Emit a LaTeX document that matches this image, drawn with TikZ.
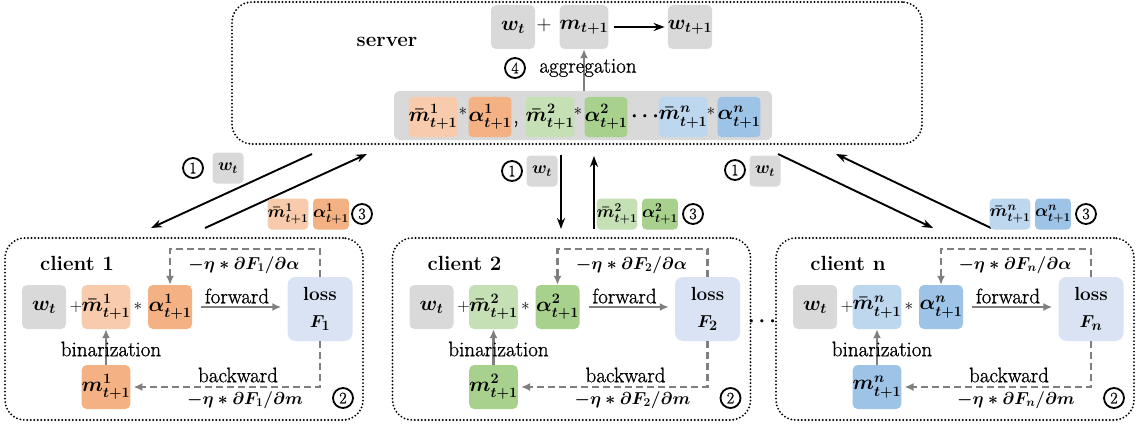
\documentclass[tikz,border=0pt]{standalone}
\usepackage{amsmath}
\usepackage{fontspec}
\newfontfamily\medfont[FakeBold=0.9]{Latin Modern Roman}
\usetikzlibrary{arrows.meta}
\definecolor{cgray}{HTML}{D9D9D9}
\definecolor{lorange}{HTML}{F8CBAD}
\definecolor{dorange}{HTML}{F4B183}
\definecolor{lgreen}{HTML}{C5E0B4}
\definecolor{dgreen}{HTML}{A9D18E}
\definecolor{lblue}{HTML}{BDD7EE}
\definecolor{dblue}{HTML}{9DC3E6}
\definecolor{lossc}{HTML}{DAE3F3}
\definecolor{arrgray}{HTML}{7F7F7F}
\tikzset{
  mbox/.style={font=\fontsize{21}{24}\selectfont\boldmath, inner sep=0pt, rounded corners=5pt,
    minimum width=44pt, minimum height=44pt, fill=#1},
  barbox/.style={font=\fontsize{20.5}{24}\selectfont\boldmath, inner sep=0pt, rounded corners=4pt,
    minimum width=40pt, minimum height=40pt, fill=#1},
  tbox/.style={font=\fontsize{17}{20}\selectfont\boldmath, inner sep=0pt, rounded corners=4pt,
    minimum width=31pt, minimum height=31pt, fill=#1},
  lossbox/.style={font=\fontsize{19}{27}\selectfont\boldmath, inner sep=0pt, rounded corners=8pt,
    minimum width=65pt, minimum height=64pt, fill=lossc, align=center},
  lbl/.style={font=\medfont\fontsize{21}{24}\selectfont\boldmath, inner sep=0pt},
  frm/.style={font=\fontsize{17.5}{22}\selectfont\boldmath, inner sep=0pt},
  ttl/.style={font=\fontsize{20.5}{24}\selectfont\bfseries, inner sep=0pt},
  opsym/.style={font=\fontsize{16}{18}\selectfont, inner sep=0pt},
  numc/.style={circle, draw, line width=1.8pt, minimum size=20pt, inner sep=0pt,
    font=\medfont\fontsize{16}{16}\selectfont},
  dotframe/.style={draw, line width=2.1pt, dash pattern=on 0pt off 3.5pt, line cap=round,
    rounded corners=20pt},
  garrow/.style={draw=arrgray, line width=2.2pt, -{Latex[length=9pt,width=8pt]}},
  gdash/.style={garrow, dash pattern=on 7pt off 4pt},
  barrow/.style={draw=black, line width=1.9pt, -{Stealth[length=11pt,width=8pt]}},
}
% #1 shift, #2 id, #3 light colour, #4 dark colour, #5 index, #6 title
\newcommand\clientblk[6]{%
\begin{scope}[xshift=#1pt]
  \node[dotframe, minimum width=358pt, minimum height=182pt] (cf#2) at (184,329) {};
  \node[ttl] (ct#2) at (77,263) {#6};
  \node[mbox=cgray] (cw#2) at (44,307) {$w_t$};
  \node[opsym] (cp#2) at (76,307) {$+$};
  \node[mbox=#3] (cmb#2) at (106,307) {$\bar{m}^{#5}_{t+1}$};
  \node[opsym] (cs#2) at (138,306) {$*$};
  \node[mbox=#4] (ca#2) at (170,307) {$\alpha^{#5}_{t+1}$};
  \node[lossbox] (cl#2) at (320,309) {\textbf{loss}\\$F_{#5}$};
  \node[mbox=#4] (cm#2) at (106,387) {$m^{#5}_{t+1}$};
  \draw[garrow, shorten <=9pt, shorten >=6pt] (ca#2.east) -- (ca#2.east -| cl#2.west);
  \node[lbl] (fw#2) at (237,296) {forward};
  \draw[gdash] (cl#2.north) -- ++(0,-28) -| (ca#2.north);
  \node[frm] (ga#2) at (244,265) {$-\eta * \partial F_{#5}/\partial\alpha$};
  \draw[garrow] (cm#2.north) -- (cmb#2.south);
  \node[lbl] (bz#2) at (111,349) {binarization};
  \draw[gdash, shorten >=3pt] (cl#2.south) |- (cm#2.east);
  \node[lbl] (bw#2) at (238,375) {backward};
  \node[frm] (gm#2) at (245,400) {$-\eta * \partial F_{#5}/\partial m$};
  \node[numc] (two#2) at (343,398) {2};
\end{scope}}
\begin{document}
\begin{tikzpicture}[x=1pt,y=-1pt]
\useasboundingbox (0,0) rectangle (1137,425);
% ---------------- server ----------------
\node[dotframe, minimum width=690pt, minimum height=142pt] (server) at (577,73) {};
\node[ttl] (srvlbl) at (387,42) {server};
\node[mbox=cgray] (sw) at (513,27) {$w_t$};
\node[opsym, font=\fontsize{20}{20}\selectfont] (splus) at (544,25) {$+$};
\node[mbox=cgray] (sm) at (584,27) {$m_{t+1}$};
\node[mbox=cgray] (sw1) at (690,27) {$w_{t+1}$};
\draw[barrow, shorten <=5pt, shorten >=3pt] (sm.east) -- (sw1.west);
\node[fill=cgray, rounded corners=6pt, minimum width=378pt, minimum height=49pt, inner sep=0pt] (bar) at (583,115.5) {};
\node[barbox=lorange] (b1) at (433,117) {$\bar{m}^1_{t+1}$};
\node[opsym] (bs1) at (463,111) {$*$};
\node[barbox=dorange] (b2) at (490,117) {$\alpha^1_{t+1}$};
\node[lbl] (bc) at (516,124) {,};
\node[barbox=lgreen] (b3) at (550,117) {$\bar{m}^2_{t+1}$};
\node[opsym] (bs2) at (578,111) {$*$};
\node[barbox=dgreen] (b4) at (606,117) {$\alpha^2_{t+1}$};
\node[lbl] (bd) at (647,117) {$\cdots$};
\node[barbox=lblue] (b5) at (683,117) {$\bar{m}^n_{t+1}$};
\node[opsym] (bs3) at (711,111) {$*$};
\node[barbox=dblue] (b6) at (739,117) {$\alpha^n_{t+1}$};
\draw[garrow] (bar.north -| sm.south) -- (sm.south);
\node[numc] (four) at (515,68) {4};
\node[lbl] (agg) at (588,68) {aggregation};
% ---------------- transfer arrows ----------------
\coordinate (d1s) at (312,154); \coordinate (d1e) at (151,228);
\coordinate (u1s) at (205,228); \coordinate (u1e) at (367,154);
\coordinate (d2s) at (561,155); \coordinate (d2e) at (561,229);
\coordinate (u2s) at (594,229); \coordinate (u2e) at (594,156);
\coordinate (dns) at (778,154); \coordinate (dne) at (933,228);
\coordinate (uns) at (991,228); \coordinate (une) at (836,154);
\draw[barrow] (d1s) -- (d1e);
\draw[barrow] (u1s) -- (u1e);
\draw[barrow] (d2s) -- (d2e);
\draw[barrow] (u2s) -- (u2e);
\draw[barrow] (dns) -- (dne);
\draw[barrow] (uns) -- (une);
% labels on transfer
\node[numc] (o1) at (193,168) {1};
\node[tbox=cgray] (tw1) at (228,168) {$w_t$};
\node[tbox=lorange] (tm1) at (288,214) {$\bar{m}^1_{t+1}$};
\node[tbox=dorange] (ta1) at (331,214) {$\alpha^1_{t+1}$};
\node[numc] (th1) at (362,214) {3};
\node[numc] (o2) at (512,171) {1};
\node[tbox=cgray] (tw2) at (542,171) {$w_t$};
\node[tbox=lgreen] (tm2) at (617,214) {$\bar{m}^2_{t+1}$};
\node[tbox=dgreen] (ta2) at (660,214) {$\alpha^2_{t+1}$};
\node[numc] (th2) at (693,214) {3};
\node[numc] (on) at (735,170) {1};
\node[tbox=cgray] (twn) at (765,171) {$w_t$};
\node[tbox=lblue] (tmn) at (1010,214) {$\bar{m}^n_{t+1}$};
\node[tbox=dblue] (tan) at (1053,214) {$\alpha^n_{t+1}$};
\node[numc] (thn) at (1086,214) {3};
% ---------------- clients ----------------
\clientblk{0}{1}{lorange}{dorange}{1}{client 1}
\clientblk{387.5}{2}{lgreen}{dgreen}{2}{client 2}
\clientblk{771}{n}{lblue}{dblue}{n}{client n}
\node[lbl] (cdots) at (764,322) {$\cdots$};
\end{tikzpicture}
\end{document}
